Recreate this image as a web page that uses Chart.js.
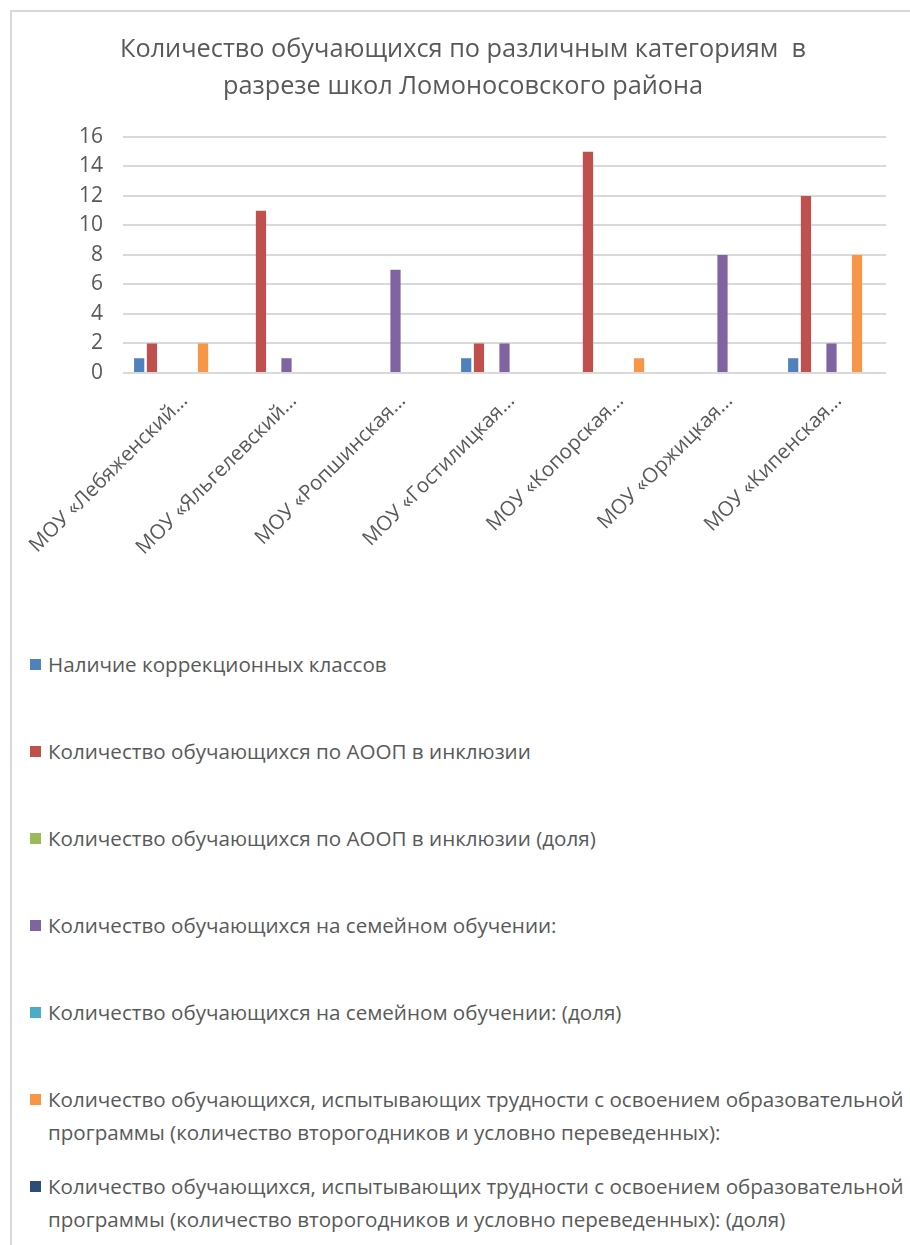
<!DOCTYPE html>
<html>
<head>
<meta charset="utf-8">
<script src="https://cdn.jsdelivr.net/npm/chart.js@4.4.0/dist/chart.umd.min.js"></script>
<style>
  html, body { margin: 0; padding: 0; background: #fff; overflow: hidden; }
  body { width: 910px; height: 1245px; position: relative; font-family: "Open Sans", sans-serif; }
  #frame { position: absolute; left: 10px; top: 10px; width: 920px; height: 1260px;
           border-left: 2px solid #d9d9d9; border-top: 2px solid #d9d9d9; }
  #chartBox { position: absolute; left: 0; top: 12px; width: 910px; height: 590px; }
  #legend { position: absolute; left: 30px; top: 648px; width: 900px; }
  #legend ul { list-style: none; margin: 0; padding: 0; }
  #legend li { position: relative; height: 87px; padding-left: 18px; font-size: 20.6px;
               line-height: 33px; color: #595959; }
  #legend li span.box { position: absolute; left: 0; top: 11px; width: 11px; height: 11px; }
</style>
</head>
<body>
<div id="frame"></div>
<div id="chartBox"><canvas id="myChart"></canvas></div>
<div id="legend"></div>
<script>
// schools (labels are cut off in the original picture)
var schools = ['МОУ «Лебяженский…', 'МОУ «Яльгелевский…', 'МОУ «Ропшинская…',
  'МОУ «Гостилицкая…', 'МОУ «Копорская…', 'МОУ «Оржицкая…', 'МОУ «Кипенская…'];

var seriesNames = [
  'Наличие коррекционных классов',
  'Количество обучающихся по АООП в инклюзии',
  'Количество обучающихся по АООП в инклюзии (доля)',
  'Количество обучающихся на семейном обучении:',
  'Количество обучающихся на семейном обучении: (доля)',
  'Количество обучающихся, испытывающих трудности с освоением образовательной программы (количество второгодников и условно переведенных):',
  'Количество обучающихся, испытывающих трудности с освоением образовательной программы (количество второгодников и условно переведенных): (доля)'
];

var corrClasses = [1, 0, 0, 1, 0, 0, 1];
var aoop = [2, 11, 0, 2, 15, 0, 12];
var aoopShare = [0, 0, 0, 0, 0, 0, 0];
var family = [0, 1, 7, 2, 0, 8, 2];
var familyShare = [0, 0, 0, 0, 0, 0, 0];
var struggling = [2, 0, 0, 0, 1, 0, 8];
var strugglingShare = [0, 0, 0, 0, 0, 0, 0];

var colors = ['#4F81BD', '#C0504D', '#9BBB59', '#8064A2', '#4BACC6', '#F79646', '#2C4D75'];
var yTicks = [0, 2, 4, 6, 8, 10, 12, 14, 16];

var allValues = [corrClasses, aoop, aoopShare, family, familyShare, struggling, strugglingShare];

var datasets = [];
for (var i = 0; i < allValues.length; i++) {
  datasets.push({
    label: seriesNames[i],
    data: allValues[i],
    backgroundColor: colors[i],
    categoryPercentage: 0.82,
    barPercentage: 0.8
  });
}

// html legend so the long names can wrap like in the original
var htmlLegend = {
  id: 'htmlLegend',
  afterUpdate: function(chart) {
    var box = document.getElementById('legend');
    var html = '<ul>';
    chart.data.datasets.forEach(function(ds) {
      html += '<li><span class="box" style="background:' + ds.backgroundColor + '"></span>' + ds.label + '</li>';
    });
    html += '</ul>';
    box.innerHTML = html;
  }
};

var txt = '#595959';

var myChart = new Chart(document.getElementById('myChart'), {
  type: 'bar',
  data: { labels: schools, datasets: datasets },
  options: {
    responsive: true,
    maintainAspectRatio: false,
    animation: false,
    layout: { padding: { left: 40, right: 24, top: 0, bottom: 0 } },
    plugins: {
      legend: { display: false },
      tooltip: { enabled: false },
      title: {
        display: true,
        text: ['Количество обучающихся по различным категориям  в', 'разрезе школ Ломоносовского района'],
        color: txt,
        font: { family: 'Open Sans', size: 25.3, weight: 'normal', lineHeight: 1.46 },
        padding: { top: 19, bottom: 32 }
      }
    },
    scales: {
      x: {
        grid: { display: false },
        border: { display: false },
        ticks: {
          color: txt,
          font: { family: 'Open Sans', size: 20.5 },
          minRotation: 45,
          maxRotation: 45,
          autoSkip: false,
          padding: 8,
          labelOffset: 7
        },
        afterFit: function(scale) {
          scale.height = 229;
          // long rotated labels may hang out to the left, don't shrink the plot for them
          scale.paddingLeft = 0;
          scale.paddingRight = 0;
        }
      },
      y: {
        min: 0,
        max: 16,
        afterBuildTicks: function(scale) {
          scale.ticks = yTicks.map(function(v) { return { value: v }; });
        },
        grid: { color: '#d9d9d9', lineWidth: 2, drawTicks: false },
        border: { display: false },
        ticks: {
          color: txt,
          font: { family: 'Open Sans', size: 21 },
          padding: 20
        },
        afterFit: function(scale) { scale.width = 83; }
      }
    }
  },
  plugins: [htmlLegend]
});
</script>
</body>
</html>
